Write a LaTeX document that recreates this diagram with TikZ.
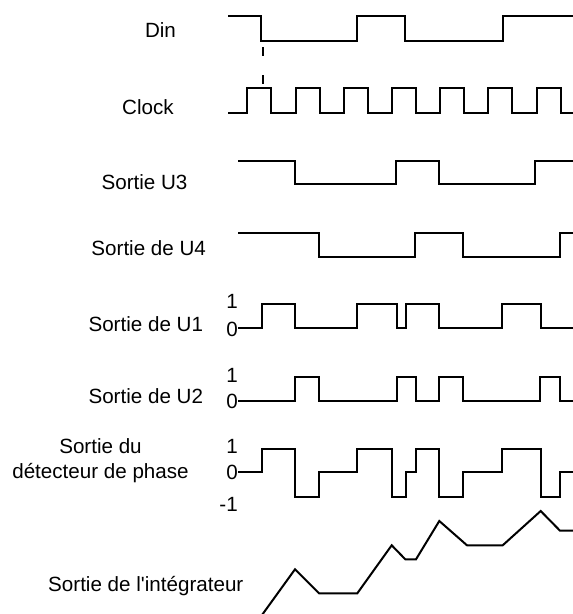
\documentclass[tikz,border=0pt]{standalone}
\usepackage{fontspec}
\setmainfont{Liberation Sans}[Ligatures=TeXOff]

\begin{document}
\begin{tikzpicture}[x=1pt,y=-1pt,
  wave/.style={line width=2pt,black},
  sync/.style={line width=2pt,black,dash pattern=on 9pt off 19pt},
  lbl/.style={font=\fontsize{20.6}{25}\selectfont,inner sep=0pt,anchor=base,align=center},
  lvl/.style={font=\fontsize{20.6}{25}\selectfont,inner sep=0pt,anchor=base east}
]
\useasboundingbox (0,0) rectangle (573,614);

% signal names
\node[lbl] (din) at (160.5,37.3) {Din};
\node[lbl] (clk) at (148,114) {Clock};
\node[lbl] (u3) at (144.5,189) {Sortie U3};
\node[lbl] (u4) at (148.7,255) {Sortie de U4};
\node[lbl] (u1) at (145.8,331) {Sortie de U1};
\node[lbl] (u2) at (145.8,403) {Sortie de U2};
\node[lbl] (pd) at (100.5,478) {Sortie du\\d\'etecteur de phase};
\node[lbl] (integ) at (145.8,591.5) {Sortie de l'int\'egrateur};

% logic levels
\node[lvl] (u1hi) at (238,308.7) {1};
\node[lvl] (u1lo) at (238,336) {0};
\node[lvl] (u2hi) at (238,382) {1};
\node[lvl] (u2lo) at (238,408) {0};
\node[lvl] (pdhi) at (238,453.7) {1};
\node[lvl] (pdzero) at (238,479.5) {0};
\node[lvl] (pdlo) at (238,511) {-1};

% waveforms
\draw[wave] (228,16) -| (260.7,40.7) -| (357.3,16) -| (405.3,40.7) -| (502.7,16) -- (573,16);
\draw[wave] (228,112.7) \foreach \k in {0,...,6} { -| ({247.3+48.2*\k},88.3) -| ({271.4+48.2*\k},112.7) } -- (573,112.7);
\draw[wave] (238.3,160.7) -| (295,184) -| (396,160.7) -| (439.3,184) -| (535,160.7) -- (573,160.7);
\draw[wave] (238.3,232.7) -| (319,256.7) -| (415,232.7) -| (463.3,256.7) -| (560,232.7) -- (573,232.7);
\draw[wave] (238.3,328.3) -| (261.7,304.3) -| (295,328.3) -| (357.3,304.3) -| (396.7,328.3) -| (405.5,304.3) -| (439.3,328.3) -| (502,304.3) -| (541,328.3) -- (573,328.3);
\draw[wave] (238.3,400.7) -| (295,376.7) -| (319,400.7) -| (396.7,376.7) -| (415.5,400.7) -| (439.3,376.7) -| (463.3,400.7) -| (540,376.7) -| (560,400.7) -- (573,400.7);
\draw[wave] (238.3,472.3) -| (261.7,449.3) -| (295,497.3) -| (319,472.3) -| (357.3,449.3) -| (391.7,497.3) -| (405.5,472.3) -| (415.5,449.3) -| (439.3,497.3) -| (463.3,472.3) -| (502,449.3) -| (541,497.3) -| (560,472.3) -- (573,472.3);
\draw[wave] (262,615) -- (295,569.3) -- (319,593.3) -- (357.3,593.3) -- (391.7,545.3) -- (405.3,559.3) -- (416,559.3) -- (439.3,521) -- (467,545.3) -- (502.7,545.3) -- (540.7,511) -- (560,530.7) -- (573,530.7);

% sampling instant
\coordinate (syncA) at (262.5,47);
\coordinate (syncB) at (262.5,84);
\draw[sync] (syncA) -- (syncB);
\end{tikzpicture}
\end{document}
